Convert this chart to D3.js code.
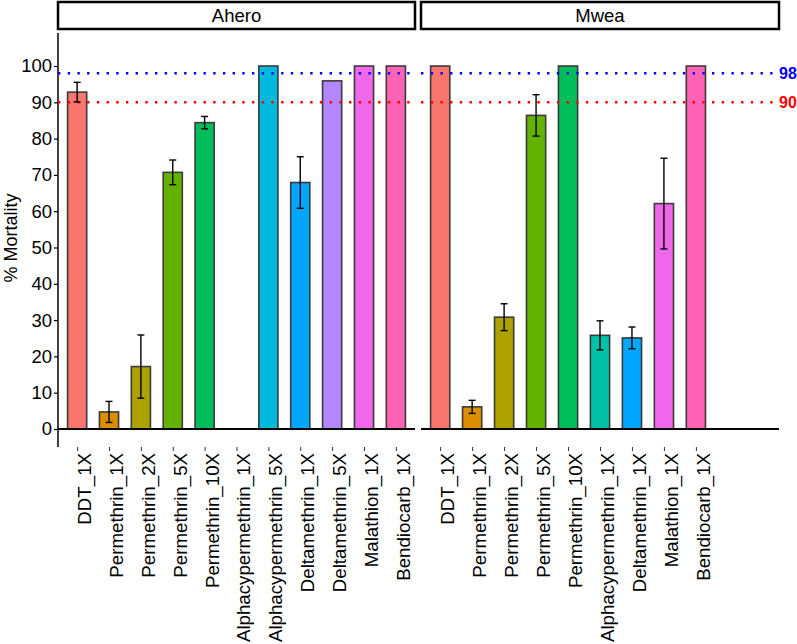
<!DOCTYPE html>
<html>
<head>
<meta charset="utf-8">
<script src="https://cdn.jsdelivr.net/npm/d3@7"></script>
<style>
  body { margin: 0; background: #fff; }
  svg text { font-family: "Liberation Sans", Arial, sans-serif; }
</style>
</head>
<body>
<div id="chart"></div>
<script>
// insecticide levels (fill order)
const insecticides = ['DDT_1X', 'Permethrin_1X', 'Permethrin_2X', 'Permethrin_5X', 'Permethrin_10X',
  'Alphacypermethrin_1X', 'Alphacypermethrin_5X', 'Deltamethrin_1X', 'Deltamethrin_5X',
  'Malathion_1X', 'Bendiocarb_1X']
const fills = ['#F8766D', '#DB8E00', '#AEA200', '#64B200', '#00BD5C', '#00C1A7',
  '#00BADE', '#00A6FF', '#B385FF', '#EF67EB', '#FF63B6']

const sites = ['Ahero', 'Mwea']

const aheroCats = insecticides
const aheroMort = [92.8, 4.7, 17.2, 70.7, 84.4, null, 100, 67.9, 95.9, 100, 100]
const aheroErr = [2.7, 2.9, 8.7, 3.4, 1.7, null, null, 7.1, null, null, null]

const mweaCats = ['DDT_1X', 'Permethrin_1X', 'Permethrin_2X', 'Permethrin_5X', 'Permethrin_10X',
  'Alphacypermethrin_1X', 'Deltamethrin_1X', 'Malathion_1X', 'Bendiocarb_1X']
const mweaMort = [100, 6.1, 30.8, 86.4, 100, 25.8, 25.1, 62.1, 100]
const mweaErr = [null, 1.8, 3.7, 5.7, null, 4.0, 3.0, 12.5, null]

const yTicks = [0, 10, 20, 30, 40, 50, 60, 70, 80, 90, 100]
const refValues = [98, 90]
const refColors = ['#0000FF', '#FF0000']

// canvas
const width = 797,
  height = 644
const panelTop = 33,
  zeroY = 429,
  topY = 66,
  panelBottom = 447
const panels = [
  {site: 'Ahero', x0: 58, x1: 415, cats: aheroCats, mort: aheroMort, err: aheroErr},
  {site: 'Mwea', x0: 421, x1: 779, cats: mweaCats, mort: mweaMort, err: mweaErr}
]

const color = d3.scaleOrdinal().domain(insecticides).range(fills)

const yScale = d3.scaleLinear()
  .domain([0, 100])
  .range([zeroY, topY])

let svg = d3.select('#chart')
  .append('svg')
  .attr('width', width)
  .attr('height', height)

// y axis (left panel only)
let yAxis = svg.append('g')
  .attr('transform', 'translate(' + panels[0].x0 + ',0)')
  .call(d3.axisLeft(yScale).tickValues(yTicks).tickSize(4).tickSizeOuter(0))
yAxis.select('.domain').remove()
yAxis.selectAll('line').attr('stroke', '#000').attr('stroke-width', 1.2)
yAxis.selectAll('text')
  .attr('x', -6)
  .attr('fill', '#000')
  .style('font-size', '18.5px')
yAxis.append('line')
  .attr('x1', 0).attr('x2', 0)
  .attr('y1', panelTop).attr('y2', panelBottom)
  .attr('stroke', '#000').attr('stroke-width', 1.5)

svg.append('text')
  .attr('transform', 'translate(17,238) rotate(-90)')
  .attr('text-anchor', 'middle')
  .style('font-size', '18px')
  .text('% Mortality')

panels.forEach((p, pi) => {
  const xScale = d3.scalePoint()
    .domain(d3.range(insecticides.length))
    .range([p.x0, p.x1])
    .padding(0.6)
  const bw = xScale.step() * 0.6

  const rows = p.cats.map((c, i) => ({cat: c, i: i, v: p.mort[i], e: p.err[i]}))

  // strip
  svg.append('rect')
    .attr('x', p.x0).attr('y', 2)
    .attr('width', p.x1 - p.x0).attr('height', 27)
    .attr('fill', '#fff').attr('stroke', '#000').attr('stroke-width', 2.5)
  svg.append('text')
    .attr('x', (p.x0 + p.x1) / 2).attr('y', 22)
    .attr('text-anchor', 'middle')
    .style('font-size', '18.5px')
    .text(p.site)

  // bars
  svg.append('g').selectAll('rect')
    .data(rows.filter(d => d.v != null))
    .enter()
    .append('rect')
    .attr('x', d => xScale(d.i) - bw / 2)
    .attr('y', d => yScale(d.v))
    .attr('width', bw)
    .attr('height', d => yScale(0) - yScale(d.v))
    .attr('fill', d => color(d.cat))
    .attr('stroke', '#3b3b3b')
    .attr('stroke-width', 1.6)

  // reference lines
  refValues.forEach((r, ri) => {
    svg.append('line')
      .attr('x1', p.x0).attr('x2', p.x1)
      .attr('y1', yScale(r)).attr('y2', yScale(r))
      .attr('stroke', refColors[ri])
      .attr('stroke-width', 2.4)
      .attr('stroke-dasharray', '2.4,7.3')
  })

  // error bars
  const eb = svg.append('g').selectAll('g')
    .data(rows.filter(d => d.e != null))
    .enter()
    .append('g')
    .attr('stroke', '#000')
    .attr('stroke-width', 1.4)
  eb.append('line')
    .attr('x1', d => xScale(d.i)).attr('x2', d => xScale(d.i))
    .attr('y1', d => yScale(d.v + d.e)).attr('y2', d => yScale(d.v - d.e))
  eb.append('line')
    .attr('x1', d => xScale(d.i) - 3.5).attr('x2', d => xScale(d.i) + 3.5)
    .attr('y1', d => yScale(d.v + d.e)).attr('y2', d => yScale(d.v + d.e))
  eb.append('line')
    .attr('x1', d => xScale(d.i) - 3.5).attr('x2', d => xScale(d.i) + 3.5)
    .attr('y1', d => yScale(d.v - d.e)).attr('y2', d => yScale(d.v - d.e))

  // zero line
  svg.append('line')
    .attr('x1', p.x0).attr('x2', p.x1)
    .attr('y1', yScale(0)).attr('y2', yScale(0))
    .attr('stroke', '#000').attr('stroke-width', 2)

  // x axis ticks + labels
  let xAxis = svg.append('g')
    .attr('transform', 'translate(0,' + panelBottom + ')')
    .call(d3.axisBottom(xScale)
      .tickValues(d3.range(p.cats.length))
      .tickFormat(i => p.cats[i])
      .tickSize(4)
      .tickSizeOuter(0))
  xAxis.select('.domain').remove()
  xAxis.selectAll('line').attr('stroke', '#333').attr('stroke-width', 1)
  xAxis.selectAll('text')
    .attr('transform', 'rotate(-90)')
    .attr('text-anchor', 'end')
    .attr('x', -6)
    .attr('y', 0)
    .attr('dy', '0.72em')
    .attr('fill', '#000')
    .style('font-size', '18.7px')
})

// reference labels
refValues.forEach((r, ri) => {
  svg.append('text')
    .attr('x', panels[1].x1)
    .attr('y', yScale(r))
    .attr('dy', '0.36em')
    .attr('fill', refColors[ri])
    .style('font-size', '16px')
    .style('font-weight', 'bold')
    .text(r)
})
</script>
</body>
</html>
